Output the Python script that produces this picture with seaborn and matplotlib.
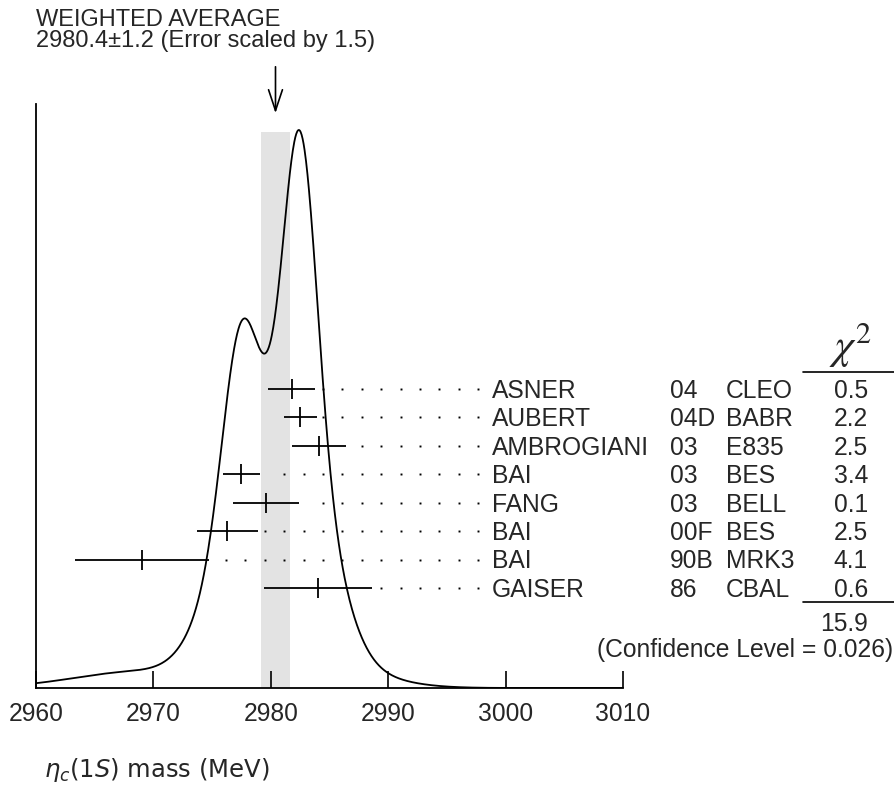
import numpy as np
import pandas as pd
import seaborn as sns
import matplotlib.pyplot as plt
from matplotlib.lines import Line2D

### measurements (PDG eta_c(1S) mass)
authors = ['ASNER', 'AUBERT', 'AMBROGIANI', 'BAI', 'FANG', 'BAI', 'BAI', 'GAISER']
years = ['04', '04D', '03', '03', '03', '00F', '90B', '86']
experiments = ['CLEO', 'BABR', 'E835', 'BES', 'BELL', 'BES', 'MRK3', 'CBAL']
mass = [2981.8, 2982.5, 2984.1, 2977.5, 2979.6, 2976.3, 2969.0, 2984.0]
error = [2.0, 1.4, 2.3, 1.6, 2.8, 2.6, 5.7, 4.6]
chi2 = ['0.5', '2.2', '2.5', '3.4', '0.1', '2.5', '4.1', '0.6']
chi2_total = '15.9'
conf_level = '0.026'
avg = 2980.4
avg_err = 1.2
scale = 1.5
xticks = [2960, 2970, 2980, 2990, 3000, 3010]

df = pd.DataFrame({'author': authors, 'year': years, 'exp': experiments,
                   'mass': mass, 'err': error, 'chi2': chi2})

### ideogram: each measurement a gaussian with area ~ 1/err
xs = np.linspace(2960, 3010, 1201)
ys = np.zeros_like(xs)
for m, s in zip(df['mass'], df['err']):
    ys += (1 / s) * np.exp(-(xs - m) ** 2 / (2 * s ** 2)) / (s * np.sqrt(2 * np.pi))
ys = ys / ys.max()
curve = pd.DataFrame({'x': xs, 'y': ys})

sns.set_style('white')
plt.rcParams['font.family'] = ['Liberation Sans', 'DejaVu Sans']
FS = 17.7

W, H = 895, 789
fig = plt.figure(figsize=(W / 100, H / 100), dpi=100)

# axes box in pixels
ax_l, ax_r, ax_t, ax_b = 36, 623, 104, 688
ax = fig.add_axes([ax_l / W, 1 - ax_b / H, (ax_r - ax_l) / W, (ax_b - ax_t) / H])

peak_px = 130
unit = ax_b - peak_px


def ydat(py):
    return (ax_b - py) / unit


def fpx(px, py):
    return px / W, 1 - py / H


ax.set_xlim(2960, 3010)
ax.set_ylim(0, ydat(ax_t))

# weighted average band
ax.axvspan(avg - avg_err, avg + avg_err, ymin=0, ymax=(ax_b - 132) / (ax_b - ax_t),
           color='#e3e3e3', lw=0, zorder=0)

sns.lineplot(data=curve, x='x', y='y', ax=ax, color='black', lw=1.3, zorder=3)

# measurement rows
row0, row_step = 389, 28.43
dot_grid = 2976.18 + 1.652 * np.arange(-9, 14)
for i, r in df.iterrows():
    yp = row0 + row_step * i
    yd = ydat(yp)
    ax.hlines(yd, r['mass'] - r['err'], r['mass'] + r['err'], color='black', lw=1.3, zorder=4)
    ax.plot([r['mass']], [yd], marker='|', ms=14, mew=1.3, color='black', zorder=4)
    dots = dot_grid[dot_grid > r['mass'] + r['err'] + 0.4]
    ax.plot(dots, np.full(len(dots), yd), ls='none', marker='s', ms=1.4, color='black', mew=0)
    base = yp + 8.8
    fig.text(*fpx(492, base), r['author'], fontsize=FS, va='baseline', ha='left')
    fig.text(*fpx(670, base), r['year'], fontsize=FS, va='baseline', ha='left')
    fig.text(*fpx(726, base), r['exp'], fontsize=FS, va='baseline', ha='left')
    fig.text(*fpx(868, base), r['chi2'], fontsize=FS, va='baseline', ha='right')

# chi2 column header and total
fig.text(*fpx(851, 359), r'$\chi^2$', fontsize=31, math_fontfamily='stix',
         ha='center', va='baseline')
for ly in (372, 602):
    fig.add_artist(Line2D([803 / W, 895 / W], [1 - ly / H, 1 - ly / H], color='black', lw=1.2))
fig.text(*fpx(868, 622 + 8.8), chi2_total, fontsize=FS, va='baseline', ha='right')
fig.text(*fpx(893, 648 + 8.8), f'(Confidence Level = {conf_level})', fontsize=FS,
         va='baseline', ha='right')

# weighted average label and arrow
fig.text(*fpx(36, 26), 'WEIGHTED AVERAGE', fontsize=17, va='baseline')
fig.text(*fpx(36, 46.5), f'{avg}\u00b1{avg_err} (Error scaled by {scale})', fontsize=17,
         va='baseline')
ax.annotate('', xy=(avg, ydat(116)), xytext=(avg, ydat(64)), annotation_clip=False,
            arrowprops=dict(arrowstyle='->,head_length=0.75,head_width=0.25',
                            mutation_scale=20, lw=1.2, color='black'))

# axes styling
sns.despine(ax=ax, top=True, right=True)
for sp in ('left', 'bottom'):
    ax.spines[sp].set_linewidth(1.3)
    ax.spines[sp].set_color('black')
ax.set_xticks(xticks)
ax.set_xticklabels([str(t) for t in xticks])
ax.set_yticks([])
ax.tick_params(axis='x', direction='in', length=12, width=1.2, color='black',
               labelsize=FS, pad=10, bottom=True)
ax.set_xlabel('')
ax.set_ylabel('')

fig.text(*fpx(44, 770), r'$\eta_c(1S)$ mass (MeV)', fontsize=17.5, va='center', ha='left',
         family='DejaVu Sans', math_fontfamily='dejavusans')

fig.savefig('out.png', dpi=100)
